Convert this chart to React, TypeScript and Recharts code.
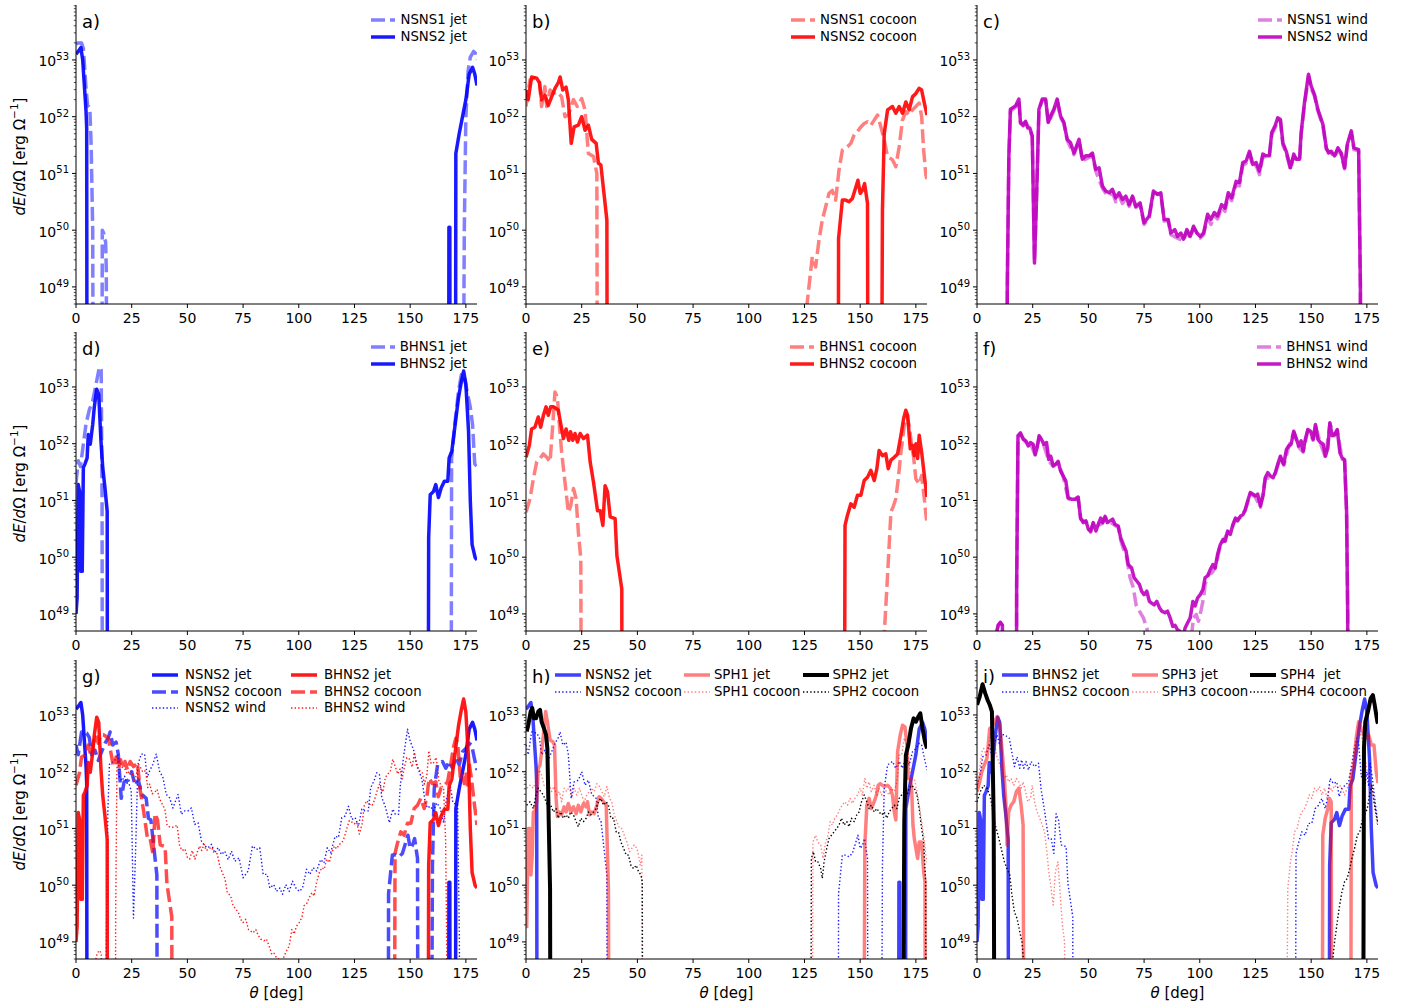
import React from 'react';
import { LineChart, Line, XAxis, YAxis, Legend } from 'recharts';

type Pt = [number, number]; // [theta in deg, log10(dE/dOmega)]
// 44 = "falls below the plotted range"

// ---------- tick labels ----------
const thetaTicks = [0, 25, 50, 75, 100, 125, 150, 175];
const majorExponents = [49, 50, 51, 52, 53];
const minorMantissas = [2, 3, 4, 5, 6, 7, 8, 9];
const Y_MIN = 5e48;
const Y_MAX = 9.3e53;

// ---------- series values ----------
const nsns1Jet: Pt[] = [[0,53.28],[1,53.3],[2.5,53.3],[3.3,53.2],[4.5,52.5],[5.2,52.2],[6.2,52.15],[6.8,51.5],[7.5,50.0],[7.9,44],[11.5,44],[11.8,50.0],[12.4,49.95],[12.8,49.85],[13.3,49.8],[13.6,49.3],[14,44],[173.5,44],[174.3,50],[175,52.0],[176,52.8],[177,53.05],[178.5,53.15],[179.3,53.12],[180,53.0]];
const nsns2Jet: Pt[] = [[0,53.1],[1,53.15],[2.2,53.22],[3,53.0],[4,52.4],[4.5,52.1],[4.8,51.8],[5,44],[167.2,44],[167.4,50.05],[167.8,50.05],[168,44],[170.3,44],[170.5,51.35],[172,51.7],[173.5,52.0],[175,52.3],[176.5,52.75],[178,52.87],[179,52.75],[180,52.55]];

const nsns1Cocoon: Pt[] = [[0,52.18],[1.8,52.65],[4,52.68],[6,52.65],[7,52.18],[8.5,52.53],[9.3,52.18],[10.8,52.47],[12.3,52.41],[14,52.44],[16,52.35],[17.5,52.0],[19,52.03],[21.3,52.3],[23,52.18],[25,52.32],[26.5,52.12],[28,51.35],[30.3,51.3],[31.8,51.0],[32.2,44],[125.9,44],[126.1,48.68],[128.5,49.53],[130,49.35],[131.5,49.82],[133,50.18],[134.5,50.41],[136,50.65],[137.5,50.7],[139,50.53],[140.5,51.06],[142,51.41],[144.3,51.47],[145.8,51.53],[147.3,51.68],[148.8,51.74],[150.3,51.82],[151.8,51.88],[153.3,51.91],[154.8,51.85],[156.3,51.94],[157.8,52.03],[159.3,51.82],[160.8,51.59],[162.3,51.3],[164.5,51.24],[166,51.12],[167.5,51.47],[169,51.94],[170.5,52.09],[172,52.03],[173.5,52.12],[175,52.18],[176.5,52.24],[177.6,52.0],[178.5,51.41],[179.5,50.97],[180,50.9]];
const nsns2Cocoon: Pt[] = [[0,52.47],[1,52.3],[2.5,52.7],[4.8,52.68],[6,52.6],[7,52.3],[8.5,52.38],[10,52.2],[11.5,52.35],[13,52.5],[14.5,52.6],[15.3,52.7],[16.5,52.47],[18,52.52],[19,52.3],[20.3,51.53],[21.6,51.82],[23.5,51.85],[25,52.0],[26.5,51.76],[28,51.85],[29.5,51.6],[31.5,51.53],[32.5,51.18],[33.6,51.15],[36.3,50.18],[36.6,44],[140.1,44],[140.3,49.85],[142,50.53],[143.5,50.53],[145,50.5],[146.5,50.56],[147.6,50.7],[149,50.88],[150,50.65],[151,50.7],[152,50.82],[153.3,50.47],[153.6,44],[159.3,44],[160,50.35],[160.8,51.7],[162.3,52.12],[164.5,52.18],[166,52.06],[167.5,52.18],[169,52.06],[170.5,52.26],[172,52.12],[173.5,52.35],[175,52.41],[176.5,52.5],[177.6,52.47],[178.8,52.24],[180,52.03]];

const nsns1Wind: Pt[] = [[13.4,44],[13.6,49.0],[14.3,51.28],[15,52.1],[17.3,52.17],[18.8,52.29],[19.5,51.88],[21.8,51.9],[23.7,51.78],[24.8,51.64],[25.8,49.45],[26.7,50.5],[27.8,52.1],[29.3,52.29],[30.8,52.29],[32,51.88],[34.5,52.1],[36,52.29],[37.5,51.99],[39,51.88],[40.5,51.58],[43.5,51.33],[45.8,51.57],[47.3,51.22],[50.3,51.28],[51.8,51.33],[53.3,51.04],[56.3,50.74],[57.8,50.65],[59.3,50.6],[60.8,50.66],[62.3,50.5],[63.8,50.6],[65.3,50.47],[66.8,50.55],[68.3,50.42],[69.8,50.57],[71.3,50.4],[73.2,50.45],[75,50.1],[77.3,50.22],[79.2,50.66],[82.5,50.63],[84,50.16],[85.8,50.17],[87,49.92],[90,49.86],[92.7,49.81],[94.2,49.98],[95.7,49.86],[97.2,50.04],[100.2,49.86],[101.7,49.92],[103.5,50.22],[105,50.1],[106.5,50.25],[108,50.2],[109.8,50.4],[111.3,50.33],[112.8,50.6],[114.3,50.52],[116.3,50.8],[117.8,50.78],[119.3,51.14],[120.8,51.18],[122.3,51.35],[123.8,51.12],[125.3,51.14],[126.8,50.98],[128.3,51.3],[131.2,51.28],[132.3,51.68],[133.8,51.8],[135,51.95],[136.2,51.92],[137.3,51.5],[138.8,51.36],[140.7,51.07],[142.2,51.3],[144.8,51.22],[145.5,51.68],[147,52.2],[148.8,52.7],[150,52.5],[151.5,52.36],[153,52.1],[155.3,51.83],[156.8,51.42],[159,51.36],[160.5,51.28],[162,51.42],[163.5,51.33],[165,51.08],[166.2,51.48],[168,51.72],[169.2,51.42],[171.3,51.4],[172.1,49.0],[172.3,44]];
const nsns2Wind: Pt[] = [[13.4,44],[13.6,49.0],[14.3,51.3],[15,52.13],[17.3,52.19],[18.8,52.31],[19.5,51.9],[20.7,51.84],[21.8,51.92],[22.8,51.8],[23.7,51.8],[24.8,51.66],[25.8,49.42],[26.7,50.54],[27.8,52.13],[29.3,52.31],[30.8,52.31],[32,51.9],[33,52.01],[34.5,52.13],[36,52.31],[37.5,52.01],[39,51.9],[40.5,51.6],[42,51.54],[43.5,51.36],[45.8,51.6],[47.3,51.25],[48.8,51.31],[50.3,51.31],[51.8,51.36],[53.3,51.07],[54.8,51.1],[56.3,50.78],[57.8,50.69],[59.3,50.66],[60.8,50.72],[62.3,50.57],[63.8,50.66],[65.3,50.54],[66.8,50.6],[68.3,50.45],[69.8,50.6],[71.3,50.42],[73.2,50.48],[75,50.13],[77.3,50.25],[79.2,50.69],[81,50.63],[82.5,50.66],[84,50.19],[85.8,50.19],[87,49.95],[88.8,50.01],[90,49.89],[91.5,49.95],[92.7,49.84],[94.2,50.01],[95.7,49.89],[97.2,50.07],[98.7,49.95],[100.2,49.89],[101.7,49.95],[103.5,50.28],[105,50.19],[106.5,50.31],[108,50.25],[109.8,50.45],[111.3,50.39],[112.8,50.66],[114.3,50.57],[116.3,50.86],[117.8,50.84],[119.3,51.19],[120.8,51.22],[122.3,51.39],[123.8,51.16],[125.3,51.19],[126.8,51.04],[128.3,51.34],[129.7,51.31],[131.2,51.31],[132.3,51.72],[133.8,51.84],[135,51.98],[136.2,51.95],[137.3,51.54],[138.8,51.39],[140.7,51.1],[142.2,51.34],[143.3,51.25],[144.8,51.25],[145.5,51.72],[147,52.25],[148.8,52.75],[150,52.54],[151.5,52.39],[153,52.13],[155.3,51.86],[156.8,51.45],[157.8,51.36],[159,51.39],[160.5,51.31],[162,51.45],[163.5,51.36],[165,51.1],[166.2,51.51],[168,51.75],[169.2,51.45],[171.3,51.42],[172.1,49.0],[172.3,44]];

const bhns1Jet: Pt[] = [[0,51.3],[1,51.7],[2,51.6],[3,51.9],[4.5,52.35],[6,52.6],[7.5,52.75],[9,53.05],[10.5,53.35],[11.3,53.3],[11.7,51.0],[11.9,44],[168.3,44],[168.6,51.75],[170.2,52.4],[171.7,52.93],[173,53.22],[174,53.22],[175.5,52.93],[177,52.64],[178,52.34],[179,51.64],[180,51.6]];
const bhns2Jet: Pt[] = [[0,49.0],[0.5,49.28],[1,51.28],[1.6,51.16],[2.2,49.75],[2.8,49.75],[3.3,51.58],[4,51.64],[5,51.75],[5.5,52.16],[6.4,51.99],[7.5,52.34],[8.2,52.64],[9.3,52.96],[10.2,52.87],[11.2,52.05],[12,51.58],[13,51.22],[14,50.81],[14.2,44],[158,44],[158.3,50.34],[159,51.1],[160.5,51.16],[161.5,51.28],[162.7,51.05],[163.9,51.22],[165.4,51.34],[166.9,51.34],[167.5,51.75],[168.7,51.87],[170.2,52.34],[171.7,52.81],[173,53.1],[174,53.28],[175,53.05],[176.2,52.22],[177,50.99],[177.8,50.22],[179.2,49.99],[180,49.95]];

const bhns1Cocoon: Pt[] = [[0,50.79],[1.8,51.03],[3.3,51.38],[4.8,51.68],[6.3,51.74],[7.8,51.82],[9.3,51.76],[10.8,51.68],[12,52.32],[13,52.91],[14.1,52.82],[15,52.32],[16,51.85],[17.5,51.32],[19,50.79],[20.1,50.91],[21.3,51.21],[22.5,51.03],[23.5,50.44],[24.6,49.97],[25,44],[160.7,44],[160.9,48.7],[162.3,49.68],[163.8,50.79],[165,50.91],[166,51.03],[167.1,51.38],[168.3,51.85],[169.8,52.32],[171,52.5],[172,52.32],[173.1,51.97],[174,51.76],[175,51.38],[176.5,51.29],[177.6,51.44],[178.8,51.03],[179.7,50.68],[180,50.65]];
const bhns2Cocoon: Pt[] = [[0,51.76],[1.5,51.97],[2.5,52.26],[4,52.29],[5.5,52.47],[6.6,52.29],[7.8,52.5],[9,52.65],[10,52.5],[11.1,52.65],[12.3,52.65],[13.5,52.62],[14.5,52.59],[15.6,52.35],[16.8,52.09],[18,52.26],[19.2,52.06],[20,52.21],[21,52.06],[22,52.18],[23.1,52.03],[24.3,52.18],[25.8,52.09],[27.6,52.15],[28.8,51.68],[30.3,51.32],[32.1,50.82],[33.3,50.82],[34.5,50.56],[35.5,51.26],[36.6,51.15],[37.8,50.71],[40,50.68],[40.8,50.03],[43,49.44],[43.2,44],[142.8,44],[143.2,50.56],[144.3,50.74],[145.8,50.94],[147.3,50.88],[148.8,51.09],[150.3,51.09],[151.8,51.35],[153.3,51.41],[154.8,51.53],[156.3,51.35],[157.5,51.56],[158.5,51.88],[160,51.79],[161.5,51.82],[162.6,51.56],[163.8,51.71],[165.3,51.76],[166.8,51.82],[168.3,52.15],[169.5,52.44],[170.5,52.59],[171.3,52.5],[172.5,51.91],[173.5,51.97],[174.3,51.79],[175,52.0],[175.8,51.74],[176.5,52.15],[177.6,51.85],[178.8,51.44],[180,51.06]];

const bhns1Wind: Pt[] = [[8,44],[8.7,48.65],[9.5,48.8],[10.5,48.85],[11.4,48.8],[11.8,44],[17.6,44],[17.8,49.5],[18.4,52.12],[19.5,52.17],[21.9,52.03],[24,52.0],[26.1,51.8],[27.9,52.12],[30,51.97],[32.2,51.7],[34.2,51.6],[36.4,51.67],[38.7,51.42],[40.9,51.03],[43.9,51.0],[45.4,51.04],[46.5,50.67],[48.9,50.62],[51,50.44],[52.2,50.6],[54.4,50.56],[56.4,50.6],[57.5,50.7],[59.7,50.62],[61.9,50.56],[63.4,50.52],[64.5,50.3],[65.7,50.15],[66.9,50.05],[68.7,49.64],[70.2,49.46],[71.4,49.16],[72.9,49.05],[74.7,48.93],[76.2,48.75],[77.5,48.5],[78,44],[95.5,44],[96.2,48.6],[97.2,48.93],[98.4,48.99],[99.4,48.87],[100.5,49.05],[101.7,49.28],[102.4,49.52],[103.9,49.69],[105.4,49.72],[106.9,49.81],[108,49.99],[109.2,50.2],[110.4,50.28],[112.5,50.43],[114.9,50.55],[116,50.66],[118.2,50.7],[120.4,50.82],[122.7,51.12],[124.9,51.06],[127.2,50.88],[129.4,51.38],[131.7,51.41],[133.9,51.47],[136.2,51.76],[137.7,51.62],[139.9,51.94],[142.2,52.2],[144.4,51.94],[146.4,51.85],[148.5,52.23],[150.9,52.06],[151.9,52.32],[154.2,52.0],[156.4,51.76],[158.4,52.35],[160.5,52.14],[161.7,52.23],[163.9,51.73],[165,51.7],[165.9,50.79],[166.4,49.0],[166.6,44]];
const bhns2Wind: Pt[] = [[8,44],[8.7,48.65],[9.5,48.8],[10.5,48.85],[11.4,48.8],[11.8,44],[17.6,44],[17.8,49.5],[18.4,52.14],[19.5,52.19],[20.7,52.08],[21.9,52.05],[23,51.96],[24,52.02],[25.2,51.99],[26.1,51.81],[27,51.93],[27.9,52.14],[28.9,52.08],[30,51.99],[31.2,52.02],[32.2,51.72],[33.1,51.78],[34.2,51.61],[35.4,51.64],[36.4,51.69],[37.5,51.52],[38.7,51.43],[39.9,51.34],[40.9,51.05],[42.4,51.02],[43.9,51.02],[45.4,51.06],[46.5,50.69],[47.7,50.61],[48.9,50.64],[50,50.49],[51,50.46],[52.2,50.61],[53.4,50.46],[54.4,50.58],[55.5,50.69],[56.4,50.61],[57.5,50.72],[58.5,50.61],[59.7,50.64],[60.9,50.67],[61.9,50.58],[63.4,50.55],[64.5,50.34],[65.7,50.22],[66.9,50.11],[67.9,49.87],[69.4,49.81],[70.5,49.64],[71.7,49.58],[72.9,49.52],[73.9,49.4],[75,49.34],[76.2,49.4],[77.4,49.22],[78.4,49.19],[79.5,49.16],[80.7,49.22],[81.9,49.11],[82.9,49.05],[84.4,49.02],[85.5,49.05],[86.7,48.93],[87.9,48.78],[88.9,48.8],[90,48.72],[91.2,48.69],[92.4,48.6],[93.4,48.75],[94.5,48.84],[95.7,48.93],[96.9,49.22],[97.9,49.14],[99,49.28],[100.2,49.34],[101.4,49.43],[102.4,49.64],[103.5,49.67],[104.7,49.78],[105.9,49.87],[106.9,49.81],[108,50.05],[109.2,50.22],[110.4,50.31],[111.4,50.28],[112.5,50.46],[113.7,50.4],[114.9,50.58],[116,50.69],[117,50.64],[118.2,50.72],[119.4,50.75],[120.4,50.84],[121.5,50.99],[122.7,51.14],[123.9,51.11],[124.9,51.08],[126,51.11],[127.2,50.9],[128.4,51.08],[129.4,51.4],[130.5,51.49],[131.7,51.43],[132.9,51.4],[133.9,51.49],[135,51.64],[136.2,51.78],[137,51.69],[137.7,51.64],[138.9,51.9],[139.9,51.96],[141,51.99],[142.2,52.22],[143.4,52.08],[144.4,51.96],[145.5,52.05],[146.4,51.87],[147.4,52.08],[148.5,52.25],[149.7,52.22],[150.9,52.08],[151.9,52.34],[153,52.08],[154.2,52.02],[155.4,51.99],[156.4,51.78],[157.5,51.93],[158.4,52.37],[159.4,52.14],[160.5,52.16],[161.7,52.25],[162.9,51.84],[163.9,51.75],[165,51.72],[165.9,50.81],[166.4,49.0],[166.6,44]];

const sph1Jet: Pt[] = [[0.3,49.24],[1,51.0],[1.8,51.0],[2.2,50.18],[2.8,50.53],[3.3,51.29],[4,51.29],[4.8,51.47],[5.5,52.06],[6.3,52.12],[7,52.35],[7.8,52.65],[8.8,53.06],[9.6,52.88],[10.8,52.56],[12,52.53],[12.8,52.47],[13.5,51.53],[14.1,51.21],[15,51.29],[16,51.24],[17.1,51.38],[18,51.29],[19,51.44],[20.1,51.29],[21.3,51.38],[22.5,51.26],[23.5,51.41],[24.6,51.29],[25.8,51.44],[27,51.38],[27.6,51.47],[28.5,51.24],[29.5,51.29],[30.6,51.26],[31.8,51.41],[32.8,51.56],[33.7,51.53],[34.8,51.47],[36,51.41],[37,49.94],[37.4,44],[151.4,44],[152.1,50.71],[153,51.41],[154,51.53],[155,51.35],[156.3,51.47],[157.3,51.59],[158.1,51.76],[159,51.79],[160,51.76],[161.1,51.74],[162.3,51.76],[163.5,51.71],[164.5,51.59],[165.3,51.29],[166,51.15],[166.8,52.35],[168,52.65],[169,52.82],[170.1,52.79],[171,52.47],[171.6,51.88],[172.5,51.88],[173.1,51.71],[173.7,51.06],[174.3,50.82],[175,50.65],[175.8,50.47],[176.5,50.76],[177.6,50.76],[178.5,50.24],[179.1,50.06],[179.4,44]];
const sph1Cocoon: Pt[] = [[0.3,51.71],[1.8,51.76],[3.3,51.71],[4.8,51.88],[6,52.03],[7,51.94],[8.1,51.76],[9.3,51.71],[10.5,51.76],[11.5,51.65],[12.6,51.74],[13.8,51.59],[15,51.65],[16,51.47],[17.1,51.71],[18.3,51.65],[19.5,51.74],[20.5,51.53],[21.6,51.71],[22.8,51.59],[24,51.71],[25,51.59],[26.1,51.47],[27.3,51.59],[28.5,51.65],[29.5,51.71],[30.6,51.65],[31.8,51.79],[33,51.74],[34,51.65],[35.1,51.56],[36.3,51.74],[37.5,51.53],[38.5,51.47],[39.6,51.24],[40.8,51.12],[42,51.0],[43,51.0],[44.1,50.88],[45.3,50.76],[46.5,50.59],[47.5,50.65],[48.6,50.71],[49.8,50.65],[50.5,50.53],[51.3,50.35],[52,50.53],[52.3,44],[128.4,44],[128.8,50.76],[130,50.88],[131,50.76],[132.3,50.71],[133.3,50.47],[134.5,50.76],[135.6,50.88],[136.5,51.12],[137.5,51.06],[138.6,51.18],[139.8,51.24],[141,51.35],[142,51.41],[143.1,51.47],[144.3,51.41],[145.5,51.53],[146.5,51.44],[147.6,51.53],[148.8,51.59],[150,51.71],[151,51.59],[152.1,51.88],[153,51.71],[154,51.82],[155,51.65],[156.3,51.76],[157.5,51.59],[158.5,51.71],[159.6,51.59],[160.8,51.68],[162,51.65],[163,51.59],[164.1,51.71],[165.3,51.65],[166.5,51.82],[167.5,52.29],[168.6,52.29],[169.8,52.59],[171,52.47],[172,52.12],[173.1,51.88],[174.3,51.88],[175.5,51.65],[176.5,51.41],[177.6,51.12],[178.5,50.88],[179.5,50.53],[180,50.4]];
const sph2Jet: Pt[] = [[0.3,52.71],[1,52.82],[2.1,53.06],[2.8,53.12],[3.6,52.94],[4.5,52.94],[5.5,53.06],[6.3,53.09],[7,52.88],[8.1,52.76],[9,52.65],[9.6,52.41],[10.2,51.12],[10.8,49.94],[11.1,44],[168.9,44],[169.8,51.12],[170.5,52.29],[171.6,52.47],[172.8,52.76],[174,52.94],[175,52.88],[176.1,52.97],[177,53.03],[178,52.76],[179.1,52.53],[180,52.41]];
const sph2Cocoon: Pt[] = [[0.3,51.41],[1.8,51.47],[3.3,51.35],[4.5,51.59],[5.5,51.71],[6.6,51.65],[7.8,51.59],[9,51.47],[10,51.35],[11.1,51.41],[12.3,51.29],[13.5,51.35],[14.5,51.18],[15.6,51.29],[16.8,51.18],[18,51.24],[19,51.18],[20.1,51.29],[21.3,51.24],[22.5,51.12],[23.5,51.03],[24.6,51.18],[25.8,51.12],[27,51.18],[28,51.29],[29.1,51.24],[30.3,51.29],[31.5,51.35],[32.5,51.47],[33.6,51.53],[34.8,51.41],[36,51.47],[37,51.41],[38.1,51.18],[39.3,51.18],[40.5,50.94],[41.5,50.94],[42.6,50.76],[43.8,50.65],[45,50.53],[46,50.53],[47.1,50.35],[48.3,50.29],[49.5,50.35],[50.5,50.24],[51.6,50.18],[52.2,50.06],[52.5,44],[127.7,44],[128.1,50.47],[129,50.59],[130,50.41],[131.1,50.41],[132.3,50.29],[133,50.12],[133.8,50.41],[135,50.65],[136,50.82],[137.1,50.88],[138.3,50.94],[139.5,51.0],[140.5,51.06],[141.6,51.18],[142.8,51.06],[144,51.12],[145,51.03],[146.1,51.18],[147.3,51.12],[148.5,51.24],[149.5,51.29],[150.6,51.47],[151.8,51.59],[153,51.47],[154,51.35],[155,51.41],[156.3,51.29],[157.5,51.35],[158.5,51.29],[159.6,51.24],[160.8,51.29],[162,51.18],[163,51.29],[164.1,51.35],[165.3,51.41],[166.5,51.35],[167.5,51.53],[168.6,51.59],[169.8,51.65],[171,51.59],[172,51.71],[173.1,51.76],[174.3,51.71],[175.5,51.59],[176.5,51.35],[177.6,51.0],[178.5,50.76],[179.4,50.06],[179.7,44]];

const sph3Jet: Pt[] = [[0,51.65],[1.2,51.82],[2.2,52.0],[3.3,52.12],[4.5,52.24],[5.7,52.76],[6.7,52.79],[7.8,52.88],[9,52.97],[10.2,52.82],[11.2,52.41],[12.3,51.88],[13,51.41],[13.5,50.71],[14.2,51.29],[15.3,51.41],[16.5,51.47],[17.7,51.65],[18.8,51.71],[19.8,51.41],[20.7,51.06],[21.3,44],[154.9,44],[155.2,50.88],[156.3,51.18],[157.5,51.35],[158.2,51.53],[159,51.47],[159.3,44],[167.7,44],[168,51.94],[169.2,52.12],[170.2,52.59],[171.3,52.88],[172.5,52.76],[173.7,52.65],[174.7,52.59],[175.8,52.65],[177,52.47],[178.2,52.47],[179.2,52.0],[180,51.8]];
const sph3Cocoon: Pt[] = [[0,51.59],[1.2,52.06],[2.2,52.35],[3,52.41],[4.2,52.29],[5.2,52.47],[6.3,52.71],[7.5,52.65],[8.7,52.29],[9.7,52.18],[10.8,52.06],[12,51.88],[13.2,51.94],[14.2,51.82],[15.3,51.88],[16.5,51.76],[17.7,51.88],[18.8,51.82],[19.8,51.71],[20.7,51.82],[21.8,51.65],[22.8,51.47],[24,51.53],[24.8,51.76],[25.8,51.47],[27,51.29],[28.2,51.18],[29.3,51.06],[30.3,50.94],[31.5,50.53],[32.2,50.24],[33.3,49.94],[34.2,49.65],[35.2,50.24],[36.3,50.41],[37.2,49.94],[38.2,49.35],[39.3,49.0],[40,44],[138.5,44],[139.5,49.94],[140.7,50.41],[141.7,50.65],[142.5,50.94],[143.7,51.0],[144.7,51.18],[145.8,51.29],[147,51.35],[148.2,51.47],[149.2,51.59],[150.3,51.53],[151.5,51.71],[152.7,51.65],[153.7,51.74],[154.8,51.59],[156,51.71],[157.2,51.53],[158.2,51.76],[159.3,51.65],[160.5,51.76],[161.7,51.71],[162.8,51.76],[163.8,51.71],[165,51.59],[166.2,51.71],[167.3,51.82],[168.3,52.06],[169.5,52.35],[170.7,52.53],[171.8,52.71],[172.8,52.59],[174,52.29],[175.2,52.0],[176.2,51.82],[177.3,51.71],[178.5,51.41],[179.4,51.12],[180,51.05]];
const sph4Jet: Pt[] = [[0,53.18],[1.2,53.32],[2.5,53.54],[3.7,53.38],[4.8,53.26],[5.7,53.18],[6.7,53.06],[7.5,51.12],[8,44],[173.2,44],[173.7,52.41],[174.3,52.88],[175.5,53.06],[176.7,53.29],[177.7,53.35],[178.5,53.18],[179.7,52.88],[180,52.85]];
const sph4Cocoon: Pt[] = [[0,51.47],[1.5,51.65],[3,51.76],[4.5,51.71],[5.7,51.59],[6.7,51.41],[7.8,51.12],[9,50.94],[10.2,50.76],[11.2,50.59],[12.3,50.41],[13.5,50.29],[14.7,50.18],[15.7,49.82],[16.8,49.53],[18,49.41],[19.2,49.18],[20.2,49.0],[21,48.6],[21.3,44],[159.5,44],[159.7,48.7],[160.5,49.0],[161.7,49.35],[162.8,49.65],[163.8,49.88],[165,50.06],[166.2,50.12],[167.3,50.29],[168.3,50.47],[169.5,50.65],[170.7,50.88],[171.8,50.94],[172.8,51.12],[174,51.24],[175.2,51.35],[176.2,51.59],[177.3,51.76],[178.2,51.47],[179.2,51.24],[180,51.1]];

// ---------- styles ----------
const BLUE = '#0000ff';
const RED = '#ff0000';
const MAG = '#bf00bf';
const BLACK = '#000000';
const DASH = '14 5';
const DOT = '1.4 2.2';

type Style = { color: string; opacity: number; width: number; dash?: string };
const solid = (color: string, opacity = 0.9, width = 3.5): Style => ({ color, opacity, width });
const dashed = (color: string, opacity = 0.5): Style => ({ color, opacity, width: 3.5, dash: DASH });
const dotted = (color: string, opacity = 0.9): Style => ({ color, opacity, width: 1.4, dash: DOT });

type Series = Style & { label: string; pts: Pt[] };
const S = (label: string, pts: Pt[], st: Style): Series => ({ label, pts, ...st });

type LegendCfg = { cols: number; right?: number; left?: number; handle: number; pad: number; colGap: number };
type PanelDef = { id: string; col: number; row: number; series: Series[]; legend: LegendCfg };

const singleLegend: LegendCfg = { cols: 1, right: 22, handle: 24, pad: 5, colGap: 0 };

const panels: PanelDef[] = [
  { id: 'a', col: 0, row: 0, legend: singleLegend, series: [S('NSNS1 jet', nsns1Jet, dashed(BLUE)), S('NSNS2 jet', nsns2Jet, solid(BLUE))] },
  { id: 'b', col: 1, row: 0, legend: singleLegend, series: [S('NSNS1 cocoon', nsns1Cocoon, dashed(RED)), S('NSNS2 cocoon', nsns2Cocoon, solid(RED))] },
  { id: 'c', col: 2, row: 0, legend: singleLegend, series: [S('NSNS1 wind', nsns1Wind, dashed(MAG)), S('NSNS2 wind', nsns2Wind, solid(MAG))] },
  { id: 'd', col: 0, row: 1, legend: singleLegend, series: [S('BHNS1 jet', bhns1Jet, dashed(BLUE)), S('BHNS2 jet', bhns2Jet, solid(BLUE))] },
  { id: 'e', col: 1, row: 1, legend: singleLegend, series: [S('BHNS1 cocoon', bhns1Cocoon, dashed(RED)), S('BHNS2 cocoon', bhns2Cocoon, solid(RED))] },
  { id: 'f', col: 2, row: 1, legend: singleLegend, series: [S('BHNS1 wind', bhns1Wind, dashed(MAG)), S('BHNS2 wind', bhns2Wind, solid(MAG))] },
  {
    id: 'g', col: 0, row: 2, legend: { cols: 2, left: 151, handle: 26, pad: 7, colGap: 9 },
    series: [
      S('NSNS2 jet', nsns2Jet, solid(BLUE)), S('NSNS2 cocoon', nsns2Cocoon, dashed(BLUE, 0.7)), S('NSNS2 wind', nsns2Wind, dotted(BLUE)),
      S('BHNS2 jet', bhns2Jet, solid(RED)), S('BHNS2 cocoon', bhns2Cocoon, dashed(RED, 0.7)), S('BHNS2 wind', bhns2Wind, dotted(RED)),
    ],
  },
  {
    id: 'h', col: 1, row: 2, legend: { cols: 3, left: 104, handle: 26, pad: 4, colGap: 2 },
    series: [
      S('NSNS2 jet', nsns2Jet, solid(BLUE, 0.75)), S('NSNS2 cocoon', nsns2Cocoon, dotted(BLUE)),
      S('SPH1 jet', sph1Jet, solid(RED, 0.5)), S('SPH1 cocoon', sph1Cocoon, dotted(RED, 0.5)),
      S('SPH2 jet', sph2Jet, solid(BLACK, 1, 4)), S('SPH2 cocoon', sph2Cocoon, dotted(BLACK, 1)),
    ],
  },
  {
    id: 'i', col: 2, row: 2, legend: { cols: 3, left: 100, handle: 26, pad: 4, colGap: 2 },
    series: [
      S('BHNS2 jet', bhns2Jet, solid(BLUE, 0.75)), S('BHNS2 cocoon', bhns2Cocoon, dotted(BLUE)),
      S('SPH3 jet', sph3Jet, solid(RED, 0.5)), S('SPH3 cocoon', sph3Cocoon, dotted(RED, 0.5)),
      S('SPH4  jet', sph4Jet, solid(BLACK, 1, 4)), S('SPH4 cocoon', sph4Cocoon, dotted(BLACK, 1)),
    ],
  },
];

// ---------- layout ----------
const COL_LEFT = [76, 526, 977];
const ROW_TOP = [5, 332, 660];
const PLOT_W = 401;
const PLOT_H = 299;
const AXIS_W = 75;
const M_TOP = 5;
const M_RIGHT = 12;
const CHART_W = AXIS_W + PLOT_W + M_RIGHT;
const FONT = '"DejaVu Sans", "Liberation Sans", sans-serif';

const yTicks: number[] = [];
for (let e = 48; e <= 53; e++) {
  if (majorExponents.includes(e)) yTicks.push(Math.pow(10, e));
  for (const m of minorMantissas) {
    const v = m * Math.pow(10, e);
    if (v >= Y_MIN && v <= Y_MAX) yTicks.push(v);
  }
}

const toData = (pts: Pt[]) => pts.map(([theta, e]) => ({ theta, E: Math.pow(10, e) }));

function LogTick(props: any) {
  const { x, y, payload } = props;
  const lg = Math.log10(payload.value);
  const e = Math.round(lg);
  const major = Math.abs(lg - e) < 1e-6;
  return (
    <g>
      <line x1={x - (major ? 4 : 2.2)} x2={x} y1={y} y2={y} stroke="#000" strokeWidth={major ? 1 : 0.7} />
      {major && (
        <text x={x - 7} y={y + 6.5} textAnchor="end" fontSize={14} fill="#000" fontFamily={FONT}>
          10<tspan dy={-6.5} fontSize={10}>{e}</tspan>
        </text>
      )}
    </g>
  );
}

function YLabel(props: any) {
  const vb = props.viewBox || { x: 0, y: 0, width: AXIS_W, height: PLOT_H };
  const cx = vb.x + 19;
  const cy = vb.y + vb.height / 2 + 2;
  return (
    <text x={cx} y={cy} transform={`rotate(-90, ${cx}, ${cy})`} textAnchor="middle" dominantBaseline="central" fontSize={15} fill="#000" fontFamily={FONT}>
      <tspan fontStyle="italic">dE</tspan>/<tspan fontStyle="italic">d</tspan>Ω [erg Ω<tspan dy={-6} fontSize={10.5}>−1</tspan><tspan dy={6}>]</tspan>
    </text>
  );
}

function XLabel(props: any) {
  const vb = props.viewBox || { x: AXIS_W, y: M_TOP + PLOT_H, width: PLOT_W, height: 46 };
  const cx = vb.x + vb.width / 2;
  return (
    <text x={cx} y={vb.y + 39} textAnchor="middle" fontSize={15} fill="#000" fontFamily={FONT}>
      <tspan fontStyle="italic">θ</tspan> [deg]
    </text>
  );
}

function LegendBox({ p }: { p: PanelDef }) {
  const lg = p.legend;
  const rows = Math.ceil(p.series.length / lg.cols);
  const columns: Series[][] = [];
  for (let c = 0; c < lg.cols; c++) columns.push(p.series.slice(c * rows, (c + 1) * rows));
  return (
    <div style={{ display: 'flex', gap: lg.colGap, fontSize: 13.3, lineHeight: '16.5px', color: '#000', fontFamily: FONT }}>
      {columns.map((col, ci) => (
        <div key={ci}>
          {col.map((s) => (
            <div key={s.label} style={{ display: 'flex', alignItems: 'center', whiteSpace: 'pre', height: 16.5 }}>
              <svg width={lg.handle} height={10} style={{ marginRight: lg.pad, overflow: 'visible', flex: 'none' }}>
                <line x1={0} x2={lg.handle} y1={5} y2={5} stroke={s.color} strokeOpacity={s.opacity} strokeWidth={s.width} strokeDasharray={s.dash} />
              </svg>
              <span>{s.label}</span>
            </div>
          ))}
        </div>
      ))}
    </div>
  );
}

function Panel({ p }: { p: PanelDef }) {
  const isBottom = p.row === 2;
  const xh = isBottom ? 46 : 30;
  const height = M_TOP + PLOT_H + xh;
  const left = COL_LEFT[p.col] - AXIS_W;
  const top = ROW_TOP[p.row] - M_TOP;
  const legendStyle: any = { top: 12, width: 'auto', height: 'auto' };
  if (p.legend.right !== undefined) legendStyle.right = p.legend.right;
  else legendStyle.left = p.legend.left;
  return (
    <div style={{ position: 'absolute', left, top, width: CHART_W, height }}>
      <LineChart width={CHART_W} height={height} margin={{ top: M_TOP, right: M_RIGHT, left: 0, bottom: 0 }}>
        <XAxis
          type="number"
          dataKey="theta"
          domain={[0, 180]}
          allowDataOverflow
          ticks={thetaTicks}
          interval={0}
          tickSize={4}
          tickMargin={5}
          height={xh}
          axisLine={{ stroke: '#000', strokeWidth: 1 }}
          tickLine={{ stroke: '#000', strokeWidth: 1 }}
          tick={{ fontSize: 14, fill: '#000', fontFamily: FONT }}
          label={isBottom ? <XLabel /> : undefined}
        />
        <XAxis xAxisId="top" orientation="top" type="number" domain={[0, 180]} height={0} tick={false} tickLine={false} axisLine={{ stroke: '#000', strokeWidth: 1 }} />
        <YAxis
          type="number"
          scale="log"
          domain={[Y_MIN, Y_MAX]}
          allowDataOverflow
          ticks={yTicks}
          interval={0}
          width={AXIS_W}
          tickLine={false}
          tickSize={0}
          tickMargin={0}
          axisLine={{ stroke: '#000', strokeWidth: 1 }}
          tick={<LogTick />}
          label={p.col === 0 ? <YLabel /> : undefined}
        />
        <YAxis yAxisId="right" orientation="right" type="number" domain={[0, 1]} width={0} tick={false} tickLine={false} axisLine={{ stroke: '#000', strokeWidth: 1 }} />
        {p.series.map((s) => (
          <Line
            key={s.label}
            name={s.label}
            data={toData(s.pts)}
            dataKey="E"
            type="linear"
            stroke={s.color}
            strokeOpacity={s.opacity}
            strokeWidth={s.width}
            strokeDasharray={s.dash}
            strokeLinejoin="round"
            dot={false}
            activeDot={false}
            isAnimationActive={false}
          />
        ))}
        <Legend layout="horizontal" verticalAlign="middle" align="center" wrapperStyle={legendStyle} content={() => <LegendBox p={p} />} />
      </LineChart>
      <div style={{ position: 'absolute', left: AXIS_W + 6, top: M_TOP + 6, fontSize: 18, lineHeight: '22px', fontFamily: FONT, color: '#000', pointerEvents: 'none' }}>
        {p.id})
      </div>
    </div>
  );
}

export default function App() {
  return (
    <div style={{ position: 'absolute', left: 0, top: 0, width: 1402, height: 1005, background: '#fff', fontFamily: FONT, overflow: 'hidden' }}>
      {panels.map((p) => (
        <Panel key={p.id} p={p} />
      ))}
    </div>
  );
}
